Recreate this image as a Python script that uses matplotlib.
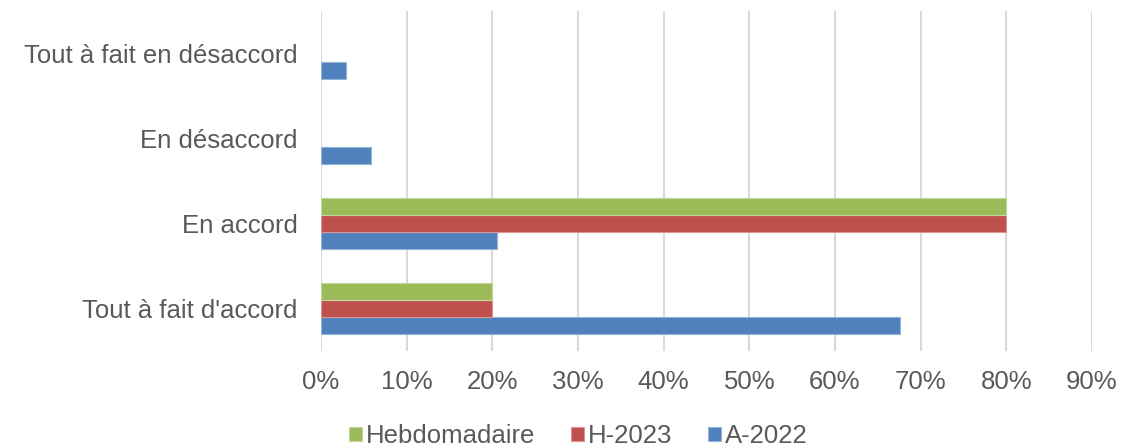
import matplotlib.pyplot as plt
import numpy as np

plt.rcParams['font.family'] = ['Liberation Sans', 'DejaVu Sans']

categories = ["Tout à fait d'accord", "En accord", "En désaccord", "Tout à fait en désaccord"]
a2022 = [0.676, 0.205, 0.058, 0.029]
h2023 = [0.20, 0.80, 0.0, 0.0]
hebdo = [0.20, 0.80, 0.0, 0.0]
xticks = [0, 0.1, 0.2, 0.3, 0.4, 0.5, 0.6, 0.7, 0.8, 0.9]

grey = '#595959'
fs = 18.5
fig = plt.figure(figsize=(11.34, 4.48), dpi=100)
ax = fig.add_axes([321/1134, 1 - 351/448, (1092-321)/1134, 340/448])

y = np.arange(len(categories))
h = 0.2


def edges(vals, c):
    return [c if v > 0 else 'none' for v in vals]


ax.barh(y - h, a2022, height=h, color='#4f81bd', edgecolor=edges(a2022, '#95b3d7'), linewidth=0.8, label='A-2022', zorder=3)
ax.barh(y, h2023, height=h, color='#c0504d', edgecolor=edges(h2023, '#d99694'), linewidth=0.8, label='H-2023', zorder=3)
ax.barh(y + h, hebdo, height=h, color='#9bbb59', edgecolor=edges(hebdo, '#c3d69b'), linewidth=0.8, label='Hebdomadaire', zorder=3)

ax.set_ylim(-0.5, 3.5)
ax.set_xlim(0, 0.9)
ax.set_xticks(xticks)
ax.set_xticklabels([f'{int(round(t*100))}%' for t in xticks], fontsize=fs, color=grey)
ax.set_yticks(y)
ax.set_yticklabels(categories, fontsize=fs, color=grey)
ax.tick_params(axis='both', length=0)
ax.tick_params(axis='x', pad=14)
ax.tick_params(axis='y', pad=17)
ax.grid(axis='x', color='#d9d9d9', linewidth=1.5, zorder=0)
for s in ax.spines.values():
    s.set_visible(False)

handles, labels = ax.get_legend_handles_labels()
leg = fig.legend(handles[::-1], labels[::-1], loc='center', bbox_to_anchor=(578/1134, 1 - 436/448),
                 ncol=3, frameon=False, fontsize=fs, handlelength=0.5, handleheight=0.5,
                 handletextpad=0.15, columnspacing=1.4)
for t in leg.get_texts():
    t.set_color(grey)

fig.savefig('out.png', dpi=100)
